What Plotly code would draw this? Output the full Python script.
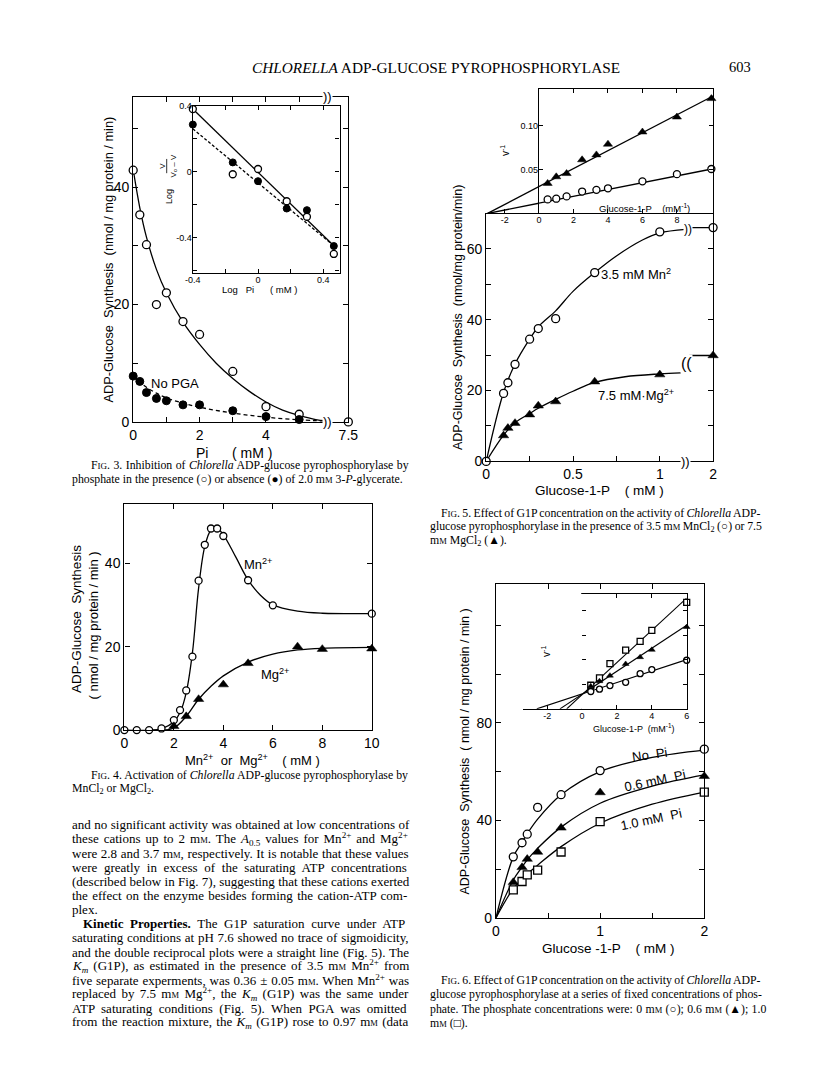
import re
import plotly.graph_objects as go

W, H = 816, 1073
SANS = "Liberation Sans"
SERIF = "Liberation Serif"

# ---------------- Fig. 3 data (Pi inhibition) ----------------
f3_pi = [0, 0.2, 0.4, 0.7, 1.0, 1.5, 2.0, 3.0, 4.0, 5.0, 7.5]
f3_pga = [42.9, 35.3, 30.2, 20.0, 22.0, 17.1, 14.9, 8.6, 2.6, 1.3, 0.0]
f3_pi_nopga = [0, 0.2, 0.4, 0.7, 1.0, 1.5, 2.0, 3.0, 4.0, 5.0]
f3_nopga = [7.8, 6.9, 5.0, 4.0, 3.6, 2.9, 2.9, 1.9, 0.9, 0.4]
f3_fit_pi = [0, 0.2, 0.4, 0.7, 1.0, 1.5, 2.0, 2.5, 3.0, 3.5, 4.0, 4.5, 5.0, 5.5, 5.8]
f3_fit_pga = [43, 36.5, 31.5, 26, 22, 17, 13.2, 10.0, 7.4, 5.2, 3.4, 2.0, 1.1, 0.4, 0.2]
f3_fit_pi2 = [0, 0.2, 0.4, 0.7, 1.0, 1.5, 2.0, 3.0, 4.0, 5.0, 5.8]
f3_fit_nopga = [7.8, 6.8, 5.9, 4.9, 4.1, 3.2, 2.5, 1.5, 0.8, 0.35, 0.15]
# inset: log plot
f3i_logpi = [-0.40, -0.155, 0.0, 0.176, 0.30, 0.465]
f3i_pga = [0.38, -0.016, 0.016, -0.18, -0.274, -0.50]
f3i_nopga = [0.286, 0.056, -0.058, -0.224, -0.234, -0.452]
f3i_line_x = [-0.40, 0.465]
f3i_line_pga = [0.38, -0.45]
f3i_line_nopga = [0.26, -0.45]

# ---------------- Fig. 4 data (cation activation) ----------------
f4_mn_x = [0, 0.5, 1.0, 1.5, 2.0, 2.25, 2.5, 2.75, 3.0, 3.25, 3.5, 3.75, 4.0, 5.0, 6.0, 10.0]
f4_mn_y = [0, 0, 0, 0.4, 2.4, 4.8, 9.5, 17.6, 35.8, 44.4, 48.3, 48.3, 46.5, 35.9, 29.9, 27.9]
f4_mg_x = [2.0, 2.5, 3.0, 4.0, 5.0, 7.0, 8.0, 10.0]
f4_mg_y = [0.9, 3.3, 7.4, 10.9, 16.0, 20.0, 19.4, 19.5]
f4_mn_fit_x = [0, 1.0, 1.5, 2.0, 2.25, 2.5, 2.75, 3.0, 3.25, 3.5, 3.7, 4.0, 4.5, 5.0, 5.5, 6.0, 7.0, 8.0, 10.0]
f4_mn_fit_y = [0, 0, 0.3, 2.0, 4.2, 9.0, 18.5, 34.0, 44.0, 48.0, 48.6, 46.8, 41.5, 36.0, 32.3, 30.0, 28.5, 28.0, 27.9]
f4_mg_fit_x = [1.5, 2.0, 2.5, 3.0, 3.5, 4.0, 5.0, 6.0, 7.0, 8.0, 10.0]
f4_mg_fit_y = [0, 0.5, 3.3, 7.4, 10.5, 13.0, 16.3, 18.2, 19.2, 19.6, 19.8]

# ---------------- Fig. 5 data (G1P saturation, Mn / Mg) ----------------
f5_g1p = [0, 0.1, 0.125, 0.166, 0.25, 0.3, 0.4, 0.625, 1.0, 2.0]
f5_mn = [0, 19.2, 22.2, 27.4, 34.5, 37.5, 40.3, 53.3, 64.8, 66.0]
f5_g1p_mg = [0.1, 0.125, 0.166, 0.25, 0.3, 0.4, 0.625, 1.0, 2.0]
f5_mg = [7.3, 9.4, 10.8, 13.2, 15.7, 16.9, 22.5, 24.5, 29.9]
f5_mn_fit_x = [0, 0.1, 0.166, 0.25, 0.3, 0.4, 0.5, 0.625, 0.75, 0.9, 1.0, 1.15]
f5_mn_fit_y = [0, 19.5, 27.5, 34.5, 38, 42.5, 48.0, 53.3, 58, 62.5, 64.5, 65.5]
f5_mg_fit_x = [0, 0.1, 0.166, 0.25, 0.3, 0.4, 0.5, 0.625, 0.8, 1.0, 1.12]
f5_mg_fit_y = [0, 7.4, 10.9, 13.5, 15.0, 17.5, 19.8, 22.3, 23.9, 24.7, 25.0]
f5_tail_x = [1.17, 2.0]
f5_mn_tail = [66.0, 66.0]
f5_mg_tail = [29.9, 29.9]
# inset: double reciprocal
f5i_inv_s = [0.5, 1.0, 1.6, 2.5, 3.33, 4.0, 6.0, 8.0, 10.0]
f5i_mg = [0.0343, 0.0418, 0.0455, 0.0612, 0.0668, 0.079, 0.0929, 0.110, 0.131]
f5i_mn = [0.016, 0.0168, 0.0194, 0.025, 0.0269, 0.0287, 0.0366, 0.0448, 0.0507]
f5i_line_x = [-3.0, 10.1]
f5i_line_mg = [0.0, 0.134]
f5i_line_mn = [0.0, 0.051]

# ---------------- Fig. 6 data (G1P saturation at fixed Pi) ----------------
f6_g1p = [0.166, 0.25, 0.3, 0.4, 0.625, 1.0, 2.0]
f6_nopi = [25.0, 30.8, 34.3, 45.3, 50.5, 60.4, 69.2]
f6_pi06 = [14.6, 20.7, 24.1, 27.0, 36.9, 51.4, 58.1]
f6_pi10 = [11.5, 14.9, 17.6, 19.6, 27.0, 39.5, 51.6]
f6_fit_x = [0, 0.166, 0.25, 0.3, 0.4, 0.625, 1.0, 1.5, 2.0]
f6_fit_nopi = [0, 25, 31, 34.5, 40.5, 50.5, 60, 65.8, 68.8]
f6_fit_pi06 = [0, 15.5, 20.8, 23.8, 28.5, 37.2, 47.0, 54, 58.6]
f6_fit_pi10 = [0, 12, 15.8, 18, 21.6, 29.2, 38.8, 46.6, 51.6]
# inset: double reciprocal
f6i_inv_s = [0.5, 1.0, 1.6, 2.5, 3.33, 4.0, 6.0]
f6i_pi10 = [0.0192, 0.0251, 0.0368, 0.0478, 0.0549, 0.0638, 0.0865]
f6i_pi06 = [0.0184, 0.0225, 0.027, 0.0365, 0.042, 0.048, 0.0665]
f6i_nopi = [0.0141, 0.016, 0.0189, 0.0216, 0.0286, 0.0319, 0.0395]
f6i_line_pi10_x = [-0.88, 6.0]
f6i_line_pi10_y = [0.0, 0.090]
f6i_line_pi06_x = [-1.27, 6.0]
f6i_line_pi06_y = [0.0, 0.068]
f6i_line_nopi_x = [-2.6, 6.0]
f6i_line_nopi_y = [0.0, 0.040]

# ---------------- helpers ----------------
F3_END = 6.48    # display position of the 7.5 mM point (after axis break)
F5_END = 1.307   # display position of the 2 mM point (after axis break)


def f3x(v):
    return [x if x <= 6 else F3_END for x in v]


def f5x(v):
    return [x if x <= 1.2 else F5_END for x in v]


def px(x):
    return x / W


def py(y):
    return 1 - y / H


OPEN = dict(symbol="circle", size=8, color="white", line=dict(color="black", width=1.3))
FILL = dict(symbol="circle", size=8, color="black", line=dict(color="black", width=1))
TRI = dict(symbol="triangle-up", size=9, color="black", line=dict(color="black", width=0.5))
SQ = dict(symbol="square", size=8, color="white", line=dict(color="black", width=1.3))


def small(m, s):
    d = dict(m)
    d["size"] = s
    return d


fig = go.Figure()


def line(x, y, ax, dash="solid", shape="spline", w=1.3):
    fig.add_trace(go.Scatter(x=x, y=y, xaxis=ax[0], yaxis=ax[1], mode="lines",
                             line=dict(color="black", width=w, dash=dash, shape=shape),
                             hoverinfo="skip", showlegend=False))


def pts(x, y, ax, marker):
    fig.add_trace(go.Scatter(x=x, y=y, xaxis=ax[0], yaxis=ax[1], mode="markers",
                             marker=marker, hoverinfo="skip", showlegend=False, cliponaxis=False))


# Fig 3 main
A3 = ("x", "y")
line(f3_fit_pi, f3_fit_pga, A3)
line(f3_fit_pi2, f3_fit_nopga, A3, dash="4px,3px")
pts(f3x(f3_pi), f3_pga, A3, OPEN)
pts(f3_pi_nopga, f3_nopga, A3, FILL)
# Fig 3 inset
A3i = ("x2", "y2")
line(f3i_line_x, f3i_line_pga, A3i, shape="linear")
line(f3i_line_x, f3i_line_nopga, A3i, dash="3px,2px", shape="linear")
pts(f3i_logpi, f3i_nopga, A3i, small(FILL, 7))
pts(f3i_logpi, f3i_pga, A3i, small(OPEN, 7))

# Fig 4
A4 = ("x3", "y3")
line(f4_mn_fit_x, f4_mn_fit_y, A4)
line(f4_mg_fit_x, f4_mg_fit_y, A4)
pts(f4_mn_x, f4_mn_y, A4, small(OPEN, 7))
pts(f4_mg_x, f4_mg_y, A4, TRI)

# Fig 5 main
A5 = ("x4", "y4")
line(f5_mn_fit_x, f5_mn_fit_y, A5)
line(f5_mg_fit_x, f5_mg_fit_y, A5)
line(f5x(f5_tail_x), f5_mn_tail, A5, shape="linear")
line(f5x(f5_tail_x), f5_mg_tail, A5, shape="linear")
pts(f5x(f5_g1p), f5_mn, A5, OPEN)
pts(f5x(f5_g1p_mg), f5_mg, A5, TRI)

# Fig 5 inset (box part and left extension)
for A in (("x5", "y5"), ("x8", "y8")):
    line(f5i_line_x, f5i_line_mg, A, shape="linear")
    line(f5i_line_x, f5i_line_mn, A, shape="linear")
pts(f5i_inv_s, f5i_mg, ("x5", "y5"), small(TRI, 8))
pts(f5i_inv_s, f5i_mn, ("x5", "y5"), small(OPEN, 7))

# Fig 6 main
A6 = ("x6", "y6")
line(f6_fit_x, f6_fit_nopi, A6)
line(f6_fit_x, f6_fit_pi06, A6)
line(f6_fit_x, f6_fit_pi10, A6)
pts(f6_g1p, f6_nopi, A6, OPEN)
pts(f6_g1p, f6_pi06, A6, TRI)
pts(f6_g1p, f6_pi10, A6, SQ)

# Fig 6 inset (box part and left extension)
for A in (("x7", "y7"), ("x9", "y9")):
    line(f6i_line_pi10_x, f6i_line_pi10_y, A, shape="linear", w=1.1)
    line(f6i_line_pi06_x, f6i_line_pi06_y, A, shape="linear", w=1.1)
    line(f6i_line_nopi_x, f6i_line_nopi_y, A, shape="linear", w=1.1)
pts(f6i_inv_s, f6i_pi10, ("x7", "y7"), small(SQ, 6))
pts(f6i_inv_s, f6i_pi06, ("x7", "y7"), small(TRI, 6))
pts(f6i_inv_s, f6i_nopi, ("x7", "y7"), small(OPEN, 6))


def axis(domain, rng, tickvals, ticktext=None, minor=None, anchor=None, mirror="ticks",
         size=14, ticklen=5, **kw):
    d = dict(domain=domain, range=rng, tickmode="array", tickvals=tickvals,
             ticktext=ticktext if ticktext is not None else [str(t) for t in tickvals],
             anchor=anchor, mirror=mirror, showline=True, linecolor="black", linewidth=1.3,
             ticks="inside", ticklen=ticklen, tickwidth=1.2, tickcolor="black",
             showgrid=False, zeroline=False,
             tickfont=dict(family=SANS, size=size, color="black"), fixedrange=True)
    if minor:
        d["minor"] = dict(tickmode="array", tickvals=minor, ticks="inside", ticklen=ticklen,
                          tickwidth=1.2, tickcolor="black", showgrid=False)
    d.update(kw)
    return d


INSET = dict(size=9, ticklen=4, ticklabelstandoff=-2)

layout = dict(
    width=W, height=H, margin=dict(l=0, r=0, t=0, b=0),
    paper_bgcolor="white", plot_bgcolor="white", showlegend=False,
    # Fig 3
    xaxis=axis([px(128), px(348)], [0, F3_END], [0, 2, 4, F3_END], ["0", "2", "4", "7.5"],
               minor=[1, 3, 5], anchor="y"),
    yaxis=axis([py(422), py(93)], [0, 55.4], [0, 20, 40], minor=[10, 30, 50], anchor="x"),
    xaxis2=axis([px(189), px(339)], [-0.4, 0.5], [-0.4, 0, 0.4], ["-0.4", "0", "0.4"],
                minor=[-0.2, 0.2], anchor="y2", **INSET),
    yaxis2=axis([py(271), py(102)], [-0.614, 0.4], [-0.4, 0, 0.4], ["-0.4", "0", "0.4"],
                minor=[-0.6, -0.2, 0.2], anchor="x2", **INSET),
    # Fig 4
    xaxis3=axis([px(119), px(372)], [0, 10], [0, 2, 4, 6, 8, 10], anchor="y3"),
    yaxis3=axis([py(734), py(505)], [0, 54.2], [0, 20, 40], anchor="x3"),
    # Fig 5 main
    xaxis4=axis([px(489), px(721)], [0, F5_END], [0, 0.5, 1.0, F5_END], ["0", "0.5", "1", "2"],
                minor=[0.25, 0.75], anchor="y4", mirror=False),
    yaxis4=axis([py(462), py(211)], [0, 70], [0, 20, 40, 60], minor=[10, 30, 50], anchor="x4"),
    # Fig 5 inset
    xaxis5=axis([px(543), px(721)], [0, 10.1], [0, 2, 4, 6, 8], anchor="y5", **INSET),
    yaxis5=axis([py(211), py(85)], [0, 0.142], [0.05, 0.10], ["0.05", "0.10"], anchor="x5",
                **INSET),
    xaxis8=axis([px(489), px(543)], [-3.08, 0], [-2], ["-2"], anchor="y8", mirror=False, **INSET),
    yaxis8=dict(domain=[py(211), py(85)], range=[0, 0.142], anchor="x8", visible=False,
                fixedrange=True),
    # Fig 6 main
    xaxis6=axis([px(499), px(712)], [0, 2], [0, 1, 2], minor=[0.5, 1.5], anchor="y6"),
    yaxis6=axis([py(924), py(586)], [0, 137], [0, 40, 80], minor=[20, 60, 100, 120], anchor="x6"),
    # Fig 6 inset
    xaxis7=axis([px(587), px(694)], [0, 6], [0, 2, 4, 6], anchor="y7", **INSET),
    yaxis7=axis([py(712.5), py(596)], [0, 0.0935], [0.04, 0.08], ["0.04", "0.08"],
                minor=[0.02, 0.06], anchor="x7", **INSET),
    xaxis9=axis([px(526.3), px(587)], [-3.41, 0], [-2], ["-2"], anchor="y9", mirror=False, **INSET),
    yaxis9=dict(domain=[py(712.5), py(596)], range=[0, 0.0935], anchor="x9", visible=False,
                fixedrange=True),
)
fig.update_layout(**layout)

# ---------------- text helpers (Times-metric widths for justification) ----------------
REG = {" ": 250, "!": 333, "(": 333, ")": 333, ",": 250, "-": 333, ".": 250, "/": 278,
       ":": 278, ";": 278, "±": 564, "+": 564, "–": 500, "·": 250,
       "○": 600, "●": 600, "▲": 600, "□": 600}
for ch in "0123456789":
    REG[ch] = 500
REG.update(dict(zip("ABCDEFGHIJKLMNOPQRSTUVWXYZ",
                    [722, 667, 667, 722, 611, 556, 722, 722, 333, 389, 722, 611, 889, 722, 722,
                     556, 722, 667, 556, 611, 722, 722, 944, 722, 722, 611])))
REG.update(dict(zip("abcdefghijklmnopqrstuvwxyz",
                    [444, 500, 444, 500, 444, 333, 500, 500, 278, 278, 500, 278, 778, 500, 500,
                     500, 500, 333, 389, 278, 500, 500, 722, 500, 500, 444])))
BOLD = {"K": 778, "i": 278, "n": 556, "e": 444, "t": 333, "c": 444, " ": 250, "P": 611,
        "r": 444, "o": 500, "p": 556, "s": 389, ".": 250}


def text_width(markup, base):
    sizes = [base]
    bold = False
    total = 0.0
    spaces = 0
    for tok in re.split(r"(<[^>]+>)", markup):
        if tok.startswith("<"):
            t = tok.lower()
            if t.startswith("<sup") or t.startswith("<sub"):
                sizes.append(sizes[-1] * 0.7)
            elif t.startswith("<span"):
                m = re.search(r"font-size:\s*([\d.]+)px", t)
                sizes.append(float(m.group(1)) if m else sizes[-1])
            elif t in ("</sup>", "</sub>", "</span>"):
                sizes.pop()
            elif t == "<b>":
                bold = True
            elif t == "</b>":
                bold = False
            continue
        for ch in tok:
            w = BOLD.get(ch, REG.get(ch, 500)) if bold else REG.get(ch, 500)
            total += w / 1000.0 * sizes[-1]
            if ch == " ":
                spaces += 1
    return total, spaces


def justify(markup, size, target):
    nat, n = text_width(markup, size)
    if n == 0:
        return markup
    ws = (target - nat) / n
    return f"<span style='word-spacing:{ws:.2f}px'>{markup}</span>"


ann = []


def T(x, y, text, size=12, family=SANS, xanchor="left", yanchor="middle", angle=0,
      xref="paper", yref="paper", bg=None):
    if xref == "paper":
        x = px(x)
    if yref == "paper":
        y = py(y)
    a = dict(x=x, y=y, xref=xref, yref=yref, text=text, showarrow=False,
             font=dict(family=family, size=size, color="black"),
             xanchor=xanchor, yanchor=yanchor, textangle=angle, borderpad=0)
    if bg:
        a["bgcolor"] = bg
    ann.append(a)


def sc(s, size=8.5):
    return f"<span style='font-size:{size}px'>{s}</span>"


MM = "m" + sc("M")
FIG = "F" + sc("IG", 9)
CAP = 11.8
BODY = 13
LEFT = 64
RIGHT_COL = 430

# ---- body paragraph
para = [
    "and no significant activity was obtained at low concentrations of",
    f"these cations up to 2 {MM}. The <i>A</i><sub>0.5</sub> values for Mn<sup>2+</sup> and Mg<sup>2+</sup>",
    f"were 2.8 and 3.7 {MM}, respectively. It is notable that these values",
    "were greatly in excess of the saturating ATP concentrations",
    "(described below in Fig. 7), suggesting that these cations exerted",
    "the effect on the enzyme besides forming the cation-ATP com-",
    "plex.",
    "<b>Kinetic Properties.</b> The G1P saturation curve under ATP",
    "saturating conditions at pH 7.6 showed no trace of sigmoidicity,",
    "and the double reciprocal plots were a straight line (Fig. 5). The",
    f"<i>K<sub>m</sub></i> (G1P), as estimated in the presence of 3.5 {MM} Mn<sup>2+</sup> from",
    f"five separate experments, was 0.36 ± 0.05 {MM}. When Mn<sup>2+</sup> was",
    f"replaced by 7.5 {MM} Mg<sup>2+</sup>, the <i>K<sub>m</sub></i> (G1P) was the same under",
    "ATP saturating conditions (Fig. 5). When PGA was omitted",
    f"from the reaction mixture, the <i>K<sub>m</sub></i> (G1P) rose to 0.97 {MM} (data",
]
WL = text_width(para[0], BODY)[0] + 2          # left column measure
WR = text_width("glucose pyrophosphorylase at a series of fixed concentrations of phos-", CAP)[0]

P0, DP = 830, 14.3
for i, s in enumerate(para):
    indent = 12 if i == 7 else 0
    txt = s if i == 6 else justify(s, BODY, WL - indent)
    T(LEFT + indent, P0 + DP * i, txt, size=BODY, family=SERIF)

# running head
T(438, 63, "<i>CHLORELLA</i> ADP-GLUCOSE PYROPHOSPHORYLASE", size=15.3, family=SERIF, xanchor="center")
T(748, 63, "603", size=14.5, family=SERIF, xanchor="center")

# ---- Fig 3 texts
T(103, 258, "ADP-Glucose  Synthesis  (nmol / mg protein / min)", size=12.8, xanchor="center", angle=-90)
T(198, 453, "Pi", size=14, xanchor="center")
T(249, 453, "( mM )", size=14, xanchor="center")
T(1.27, 6.6, "No PGA", size=13, xanchor="center", xref="x", yref="y")
T(5.85, 1, "))", size=13, xanchor="center", xref="x", yref="y domain", bg="white")
T(5.85, 0, "))", size=13, xanchor="center", xref="x", yref="y domain", bg="white")
T(164, 194, "Log", size=9, xanchor="center", angle=-90)
T(164, 163, "<u>  V  </u><br>V<sub>o</sub> – V", size=8, xanchor="center", angle=-90)
T(258, 288, "Log   Pi      ( mM )", size=9.5, xanchor="center")
cap3 = f"{FIG}. 3. Inhibition of <i>Chlorella</i> ADP-glucose pyrophosphorylase by"
T(LEFT + 20, 466, justify(cap3, CAP, WL - 20), size=CAP, family=SERIF)
T(LEFT, 480, f"phosphate in the presence (○) or absence (●) of 2.0 {MM} 3-<i>P</i>-glycerate.", size=CAP, family=SERIF)

# ---- Fig 4 texts
T(70, 621, "ADP-Glucose  Synthesis", size=13.5, xanchor="center", angle=-90)
T(87, 628, "( nmol / mg protein / min )", size=13, xanchor="center", angle=-90)
T(250, 764, "Mn<sup>2+</sup>  or  Mg<sup>2+</sup>    ( mM )", size=13, xanchor="center")
T(5.4, 39.8, "Mn<sup>2+</sup>", size=13, xanchor="center", xref="x3", yref="y3")
T(6.1, 13.5, "Mg<sup>2+</sup>", size=13, xanchor="center", xref="x3", yref="y3")
cap4 = f"{FIG}. 4. Activation of <i>Chlorella</i> ADP-glucose pyrophosphorylase by"
T(LEFT + 20, 779, justify(cap4, CAP, WL - 20), size=CAP, family=SERIF)
T(LEFT, 793, "MnCl<sub>2</sub> or MgCl<sub>2</sub>.", size=CAP, family=SERIF)

# ---- Fig 5 texts
T(460, 316, "ADP-Glucose  Synthesis  (nmol/mg protein/min)", size=12.5, xanchor="center", angle=-90)
T(605, 491, "Glucose-1-P    ( mM )", size=13.5, xanchor="center")
T(0.864, 52.8, "3.5 mM Mn<sup>2</sup>", size=13, xanchor="center", xref="x4", yref="y4")
T(0.864, 18.8, "7.5 mM·Mg<sup>2+</sup>", size=13, xanchor="center", xref="x4", yref="y4")
T(1.15, 0, "))", size=13, xanchor="center", xref="x4", yref="y4 domain", bg="white")
T(1.165, 65.7, "))", size=12, xanchor="center", xref="x4", yref="y4", bg="white")
T(1.155, 27.5, "((", size=16, xanchor="center", xref="x4", yref="y4", bg="white")
T(508, 147, "v<sup>-1</sup>", size=10, xanchor="center", angle=-90)
T(651, 205, "Glucose-1-P    (mM<sup>-1</sup>)", size=9.5, xanchor="center")
cap5 = [f"{FIG}. 5. Effect of G1P concentration on the activity of <i>Chlorella</i> ADP-",
        f"glucose pyrophosphorylase in the presence of 3.5 {MM} MnCl<sub>2</sub> (○) or 7.5",
        f"{MM} MgCl<sub>2</sub> (▲)."]
T(RIGHT_COL + 12, 514, justify(cap5[0], CAP, WR - 12), size=CAP, family=SERIF)
T(RIGHT_COL, 528, justify(cap5[1], CAP, WR), size=CAP, family=SERIF)
T(RIGHT_COL, 542, cap5[2], size=CAP, family=SERIF)

# ---- Fig 6 texts
T(467, 756, "ADP-Glucose  Synthesis  ( nmol / mg protein / min )", size=12.5, xanchor="center", angle=-90)
T(614, 955, "Glucose -1-P    ( mM )", size=13.5, xanchor="center")
T(1.48, 67.2, "No  Pi", size=13, xanchor="center", xref="x6", yref="y6", angle=-8)
T(1.53, 56.2, "0.6 mM  Pi", size=13, xanchor="center", xref="x6", yref="y6", angle=-12)
T(1.49, 40.5, "1.0 mM  Pi", size=13, xanchor="center", xref="x6", yref="y6", angle=-12)
T(550, 654, "v<sup>-1</sup>", size=10, xanchor="center", angle=-90)
T(640, 732, "Glucose-1-P  (mM<sup>-1</sup>)", size=9, xanchor="center")
cap6 = [f"{FIG}. 6. Effect of G1P concentration on the activity of <i>Chlorella</i> ADP-",
        "glucose pyrophosphorylase at a series of fixed concentrations of phos-",
        f"phate. The phosphate concentrations were: 0 {MM} (○); 0.6 {MM} (▲); 1.0",
        f"{MM} (□)."]
T(RIGHT_COL + 12, P0 + DP * 11, justify(cap6[0], CAP, WR - 12), size=CAP, family=SERIF)
T(RIGHT_COL, P0 + DP * 12, cap6[1], size=CAP, family=SERIF)
T(RIGHT_COL, P0 + DP * 13, justify(cap6[2], CAP, WR), size=CAP, family=SERIF)
T(RIGHT_COL, P0 + DP * 14, cap6[3], size=CAP, family=SERIF)

fig.update_layout(annotations=ann)

fig.write_html("out.html", config={"displayModeBar": False},
               post_script="document.body.style.margin='0px';")
